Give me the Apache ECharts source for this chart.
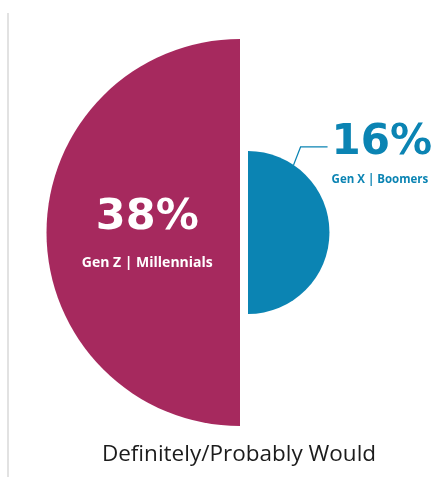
<!DOCTYPE html>
<html>
<head>
<meta charset="utf-8">
<script src="https://cdn.jsdelivr.net/npm/echarts@6/dist/echarts.min.js"></script>
<style>
  html, body { margin: 0; padding: 0; background: #ffffff; }
  #chart { width: 438px; height: 479px; }
</style>
</head>
<body>
<div id="chart"></div>
<script>
// Share of respondents who definitely/probably would, by generation group
const groups = ['Gen Z | Millennials', 'Gen X | Boomers'];
const shares = [38, 16];
const groupColors = ['#a6295e', '#0b84b3'];
const caption = 'Definitely/Probably Would';

// Half-disc geometry: radius scales linearly with the share (rose "area" mode)
const CY = 232.5;
const LEFT_CX = 240;
const RIGHT_CX = 248;
const MAX_R = 193.5;
const LEADER_ANGLE = 56; // degrees above horizontal where the leader leaves the arc

function pct(v) { return v + '%'; }

function buildData(visibleIndex, labelOpt) {
  return shares.map(function (v, i) {
    const item = { name: groups[i], value: v };
    if (i === visibleIndex) {
      item.itemStyle = { color: groupColors[i] };
      item.label = labelOpt;
    } else {
      item.itemStyle = { color: 'rgba(0,0,0,0)' };
      item.label = { show: false };
      item.labelLine = { show: false };
    }
    return item;
  });
}

const baseSeries = {
  type: 'pie',
  roseType: 'area',
  radius: [0, MAX_R],
  startAngle: 90,
  clockwise: false,
  silent: true,
  animation: false,
  avoidLabelOverlap: false,
  emphasis: { disabled: true }
};

const chart = echarts.init(document.getElementById('chart'), null, { renderer: 'canvas' });

chart.setOption({
  backgroundColor: '#ffffff',
  series: [
    Object.assign({}, baseSeries, {
      center: [LEFT_CX, CY],
      labelLine: { show: false },
      data: buildData(0, {
        show: true,
        position: 'inside',
        offset: [7, 5],
        formatter: function (p) { return '{p|' + pct(p.value) + '}\n{s|' + p.name + '}'; },
        rich: {
          p: { fontFamily: 'DejaVu Sans', fontWeight: 'bold', fontSize: 43, color: '#ffffff', lineHeight: 52, align: 'center' },
          s: { fontFamily: 'Open Sans', fontWeight: 'bold', fontSize: 14, color: '#ffffff', lineHeight: 40, align: 'center' }
        }
      })
    }),
    Object.assign({}, baseSeries, {
      center: [RIGHT_CX, CY],
      labelLine: { show: true, length: 10, length2: 10, lineStyle: { color: groupColors[1], width: 1.2 } },
      labelLayout: function (params) {
        if (params.dataIndex !== 1) return {};
        const r = MAX_R * shares[1] / Math.max.apply(null, shares);
        const a = LEADER_ANGLE * Math.PI / 180;
        const p0 = [RIGHT_CX + r * Math.cos(a), CY - r * Math.sin(a)];
        const p1 = [p0[0] + 7, p0[1] - 18];
        const p2 = [p1[0] + 27, p1[1]];
        return {
          x: p2[0] + 4,
          y: p1[1] - 27,
          align: 'left',
          verticalAlign: 'top',
          labelLinePoints: [p0, p1, p2]
        };
      },
      data: buildData(1, {
        show: true,
        position: 'outside',
        alignTo: 'none',
        overflow: 'none',
        bleedMargin: 0,
        formatter: function (p) { return '{p|' + pct(p.value) + '}\n{s|' + p.name + '}'; },
        rich: {
          p: { fontFamily: 'DejaVu Sans', fontWeight: 'bold', fontSize: 42, color: groupColors[1], lineHeight: 46, align: 'left' },
          s: { fontFamily: 'Open Sans', fontWeight: 'bold', fontSize: 11.5, color: groupColors[1], lineHeight: 28, align: 'left' }
        }
      })
    })
  ],
  graphic: [
    {
      type: 'line',
      silent: true,
      shape: { x1: 8, y1: 13, x2: 8, y2: 477 },
      style: { stroke: '#e2e2e2', lineWidth: 2 }
    },
    {
      type: 'text',
      silent: true,
      x: 239,
      y: 455,
      style: {
        text: caption,
        fontFamily: 'Open Sans',
        fontSize: 22.5,
        fill: '#1c1c1c',
        align: 'center',
        verticalAlign: 'middle'
      }
    }
  ]
});
</script>
</body>
</html>
